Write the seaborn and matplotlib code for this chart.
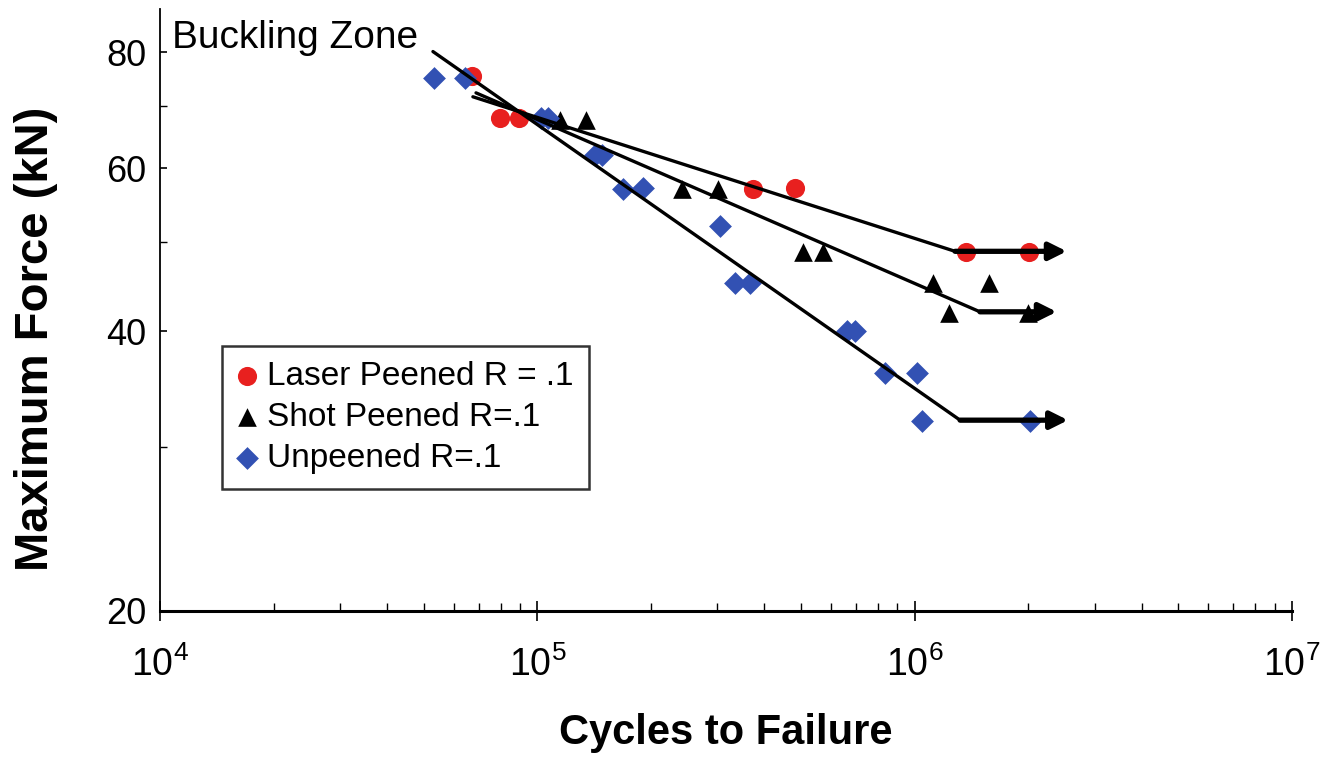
import numpy as np
import pandas as pd
import seaborn as sns
import matplotlib.pyplot as plt
from matplotlib.ticker import FixedLocator, FixedFormatter, LogLocator, NullFormatter

# S-N data (cycles to failure, max force in kN)
laser_cycles = [67.1e3, 79.6e3, 89.4e3, 373e3, 482e3, 1.37e6, 2.01e6]
laser_force = [75.3, 68.0, 68.0, 56.9, 57.1, 48.7, 48.7]

shot_cycles = [115e3, 135e3, 242e3, 301e3, 506e3, 572e3, 1.12e6, 1.23e6, 1.57e6, 2.0e6]
shot_force = [67.6, 67.6, 56.9, 56.9, 48.7, 48.7, 45.1, 41.9, 45.1, 41.9]

unpeened_cycles = [53.2e3, 64.3e3, 102e3, 107e3, 142e3, 148e3, 169e3, 191e3, 305e3,
                   334e3, 366e3, 662e3, 695e3, 835e3, 1.015e6, 1.046e6, 2.02e6]
unpeened_force = [75.1, 75.1, 68.0, 68.0, 62.0, 62.0, 56.9, 57.1, 51.9,
                  45.1, 45.1, 40.0, 40.0, 36.1, 36.1, 32.0, 32.0]

# trend lines: start, knee, end of run-out arrow
laser_fit_x = [67.5e3, 1.28e6, 2.53e6]
laser_fit_y = [71.6, 48.8, 48.8]
shot_fit_x = [68.8e3, 1.49e6, 2.38e6]
shot_fit_y = [72.3, 42.0, 42.0]
unpeened_fit_x = [52.9e3, 1.32e6, 2.55e6]
unpeened_fit_y = [80.1, 32.1, 32.1]

labels = ['Laser Peened R = .1', 'Shot Peened R=.1', 'Unpeened R=.1']
x_ticks = [1e4, 1e5, 1e6, 1e7]
x_tick_labels = [r'$\mathregular{10^{4}}$', r'$\mathregular{10^{5}}$',
                 r'$\mathregular{10^{6}}$', r'$\mathregular{10^{7}}$']
y_ticks = [20, 40, 60, 80]
y_minor = [30, 50, 70]

sns.set_style('ticks')
plt.rcParams['font.family'] = ['Liberation Sans', 'DejaVu Sans']
for key in ['text.color', 'axes.labelcolor', 'xtick.color', 'ytick.color', 'axes.edgecolor']:
    plt.rcParams[key] = 'black'

fig, ax = plt.subplots(figsize=(13.21, 7.57), dpi=100)
fig.subplots_adjust(left=0.1211, right=0.978, bottom=0.193, top=0.988)

series = [
    (laser_cycles, laser_force, 'o', '#e8201f', 190),
    (shot_cycles, shot_force, '^', 'black', 180),
    (unpeened_cycles, unpeened_force, 'D', '#3251b3', 135),
]
for (cx, fy, mk, col, size), lab in zip(series, labels):
    sns.scatterplot(x=cx, y=fy, marker=mk, color=col, s=size, linewidth=0,
                    label=lab, ax=ax, zorder=2)

for fx, fy in [(laser_fit_x, laser_fit_y), (shot_fit_x, shot_fit_y),
               (unpeened_fit_x, unpeened_fit_y)]:
    ax.plot(fx[:2], fy[:2], color='black', lw=2.4, zorder=3)
    ax.annotate('', xy=(fx[2], fy[2]), xytext=(fx[1], fy[1]),
                arrowprops=dict(arrowstyle='-|>', color='black', lw=3.8,
                                mutation_scale=26, shrinkA=0, shrinkB=0),
                zorder=3)

ax.set_xscale('log')
ax.set_yscale('log')
ax.set_xlim(1e4, 1e7)
ax.set_ylim(20, 89)

ax.xaxis.set_major_locator(FixedLocator(x_ticks))
ax.xaxis.set_major_formatter(FixedFormatter(x_tick_labels))
ax.xaxis.set_minor_locator(LogLocator(base=10, subs=np.arange(2, 10)))
ax.xaxis.set_minor_formatter(NullFormatter())
ax.yaxis.set_major_locator(FixedLocator(y_ticks))
ax.yaxis.set_major_formatter(FixedFormatter([str(v) for v in y_ticks]))
ax.yaxis.set_minor_locator(FixedLocator(y_minor))
ax.yaxis.set_minor_formatter(NullFormatter())

ax.tick_params(axis='x', which='major', direction='inout', length=15, width=1.2,
               labelsize=27, pad=18)
ax.tick_params(axis='x', which='minor', direction='in', length=6, width=1)
ax.tick_params(axis='y', which='major', direction='in', length=5, width=1.2,
               labelsize=26, pad=10)
ax.tick_params(axis='y', which='minor', direction='in', length=5, width=1)

sns.despine(ax=ax)
ax.spines['left'].set_linewidth(1.3)
ax.spines['bottom'].set_linewidth(2.2)

ax.set_xlabel('Cycles to Failure', fontsize=30, fontweight='bold')
ax.xaxis.set_label_coords(0.5, -0.17)
ax.set_ylabel('Maximum Force (kN)', fontsize=34, fontweight='bold')
ax.yaxis.set_label_coords(-0.09, 0.452)

ax.text(0.0106, 0.935, 'Buckling Zone', transform=ax.transAxes, fontsize=28,
        va='baseline', ha='left')

leg = ax.legend(loc='upper left', bbox_to_anchor=(0.055, 0.44), borderaxespad=0,
                fontsize=24, frameon=True, fancybox=False, handlelength=0.6,
                handletextpad=0.3, labelspacing=0.3, borderpad=0.45)
leg.get_frame().set_edgecolor('black')
leg.get_frame().set_linewidth(1.8)

fig.savefig('out.png', dpi=100)
